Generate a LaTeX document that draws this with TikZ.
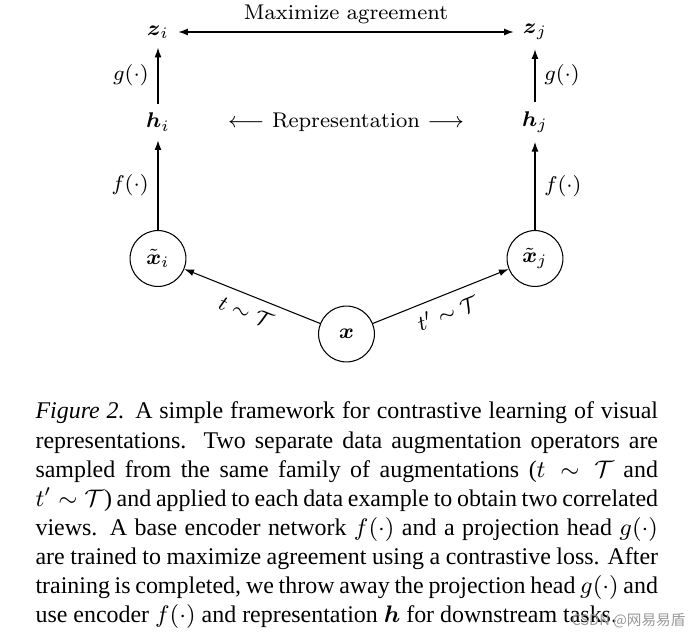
\documentclass[tikz,border=0pt]{standalone}
\usepackage{amsmath,amssymb}
\usepackage{fontspec}
\usepackage{tikz}
\usetikzlibrary{arrows.meta,positioning}
\newfontfamily\capfont{Liberation Serif}
\newfontfamily\cjkfont{Noto Sans CJK SC}
\tikzset{
  >={Latex[length=3.6pt,width=2.6pt]},
  % noder
  vy/.style={circle,draw,line width=0.4pt,inner sep=0pt,minimum size=21pt},
  pil/.style={->,line width=0.4pt},
  % text
  captext/.style={text width=234pt,align=justify,inner sep=0pt,
              font=\capfont\fontsize{9}{10.95}\selectfont},
  wm/.style={inner sep=0pt,text=black!40,font=\cjkfont\fontsize{5.5}{6}\selectfont},
}
\begin{document}
\begin{tikzpicture}[x=0.3759pt,y=-0.3759pt,font=\fontsize{8}{9.6}\selectfont]
  \useasboundingbox (0,0) rectangle (700,640);
  \node[vy] (x) at (346.5,334) {$\boldsymbol{x}$};
  \foreach \ix/\px/\sd/\tl in {i/158/left/{t},j/535/right/{t'}} {
    \node[vy] (x\ix) at (\px,258.5) {$\tilde{\boldsymbol{x}}_\ix$};
    \node (h\ix) at (\px,122) {$\boldsymbol{h}_\ix$};
    \node (z\ix) at (\px,32) {$\boldsymbol{z}_\ix$};
    \draw[pil] (x\ix) -- node[\sd] {$f(\cdot)$} (h\ix);
    \draw[pil] (h\ix) -- node[\sd] {$g(\cdot)$} (z\ix);
    \draw[pil] (x) -- node[sloped,below] {$\tl\sim\mathcal{T}$} (x\ix);
  }
  \draw[<->,line width=0.4pt] (zi) -- node[above=-0.5pt] {Maximize agreement} (zj);
  \node (rep) at (346,122) {$\longleftarrow$ Representation $\longrightarrow$};
  % caption
  \node[captext,anchor=north west] (caption) at (35,401.5) {\textit{Figure 2.} A simple framework for contrastive learning of visual\linebreak
    representations.  Two separate data augmentation operators are\linebreak
    sampled from the same family of augmentations ($t\sim\mathcal{T}$ and\linebreak
    $t'\sim\mathcal{T}$) and applied to each data example to obtain two correlated\linebreak
    views.  A base encoder network $f(\cdot)$ and a projection head $g(\cdot)$\linebreak
    are trained to maximize agreement using a contrastive loss. After\linebreak
    training is completed, we throw away the projection head $g(\cdot)$ and\linebreak
    use encoder $f(\cdot)$ and representation $\boldsymbol{h}$ for downstream tasks.};
  \node[wm,anchor=east] (mark) at (686,621) {CSDN @网易易盾};
\end{tikzpicture}
\end{document}
